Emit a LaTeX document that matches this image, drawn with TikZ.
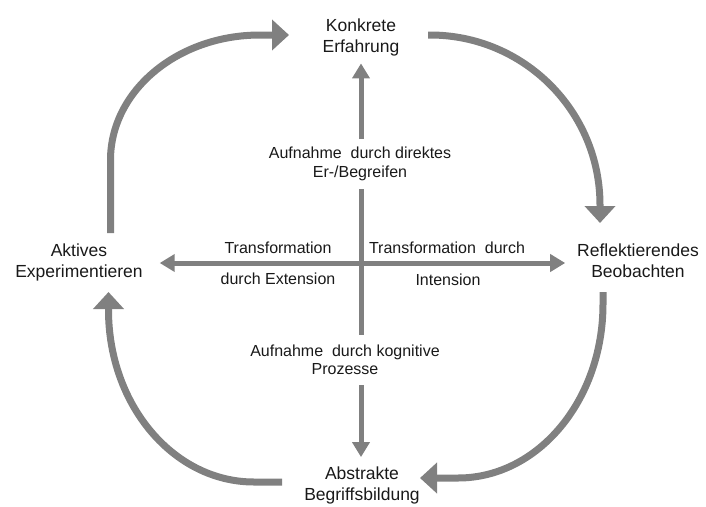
\documentclass[tikz,border=0pt]{standalone}
\usepackage{fontspec}
\setmainfont{Liberation Sans}
\usetikzlibrary{arrows.meta}
\definecolor{arrgray}{RGB}{128,128,128}
\definecolor{txtcol}{RGB}{25,25,25}
\begin{document}
\begin{tikzpicture}[x=1pt,y=-1pt,
  mainlbl/.style={font=\fontsize{17.5}{21.5}\selectfont, align=center, text=txtcol, inner sep=0pt},
  sublbl/.style={font=\fontsize{16}{18.5}\selectfont, align=center, text=txtcol, inner sep=0pt},
  gaplbl/.style={sublbl, minimum height=50pt, outer sep=0pt},
  bigarrow/.style={draw=arrgray, line width=7pt, -{Triangle[length=17pt,width=30pt]}},
  smallarrow/.style={draw=arrgray, line width=5pt, -{Triangle[length=15pt,width=17pt]}},
  plainline/.style={draw=arrgray, line width=5pt}]
\useasboundingbox (0,0) rectangle (706,506);

% main stage nodes
\node[mainlbl, outer sep=7pt] (konk) at (361,37.5) {Konkrete\\Erfahrung};
\node[mainlbl, outer sep=12pt] (refl) at (638,260.6) {Reflektierendes\\Beobachten};
\node[mainlbl, outer sep=17pt] (akt) at (79,262.5) {Aktives\\Experimentieren};
\node[mainlbl, outer sep=9.5pt] (abstr) at (362,485.5) {Abstrakte\\Begriffsbildung};

% centre labels
\coordinate (cross) at (361,263);
\node[gaplbl] (topmid) at (360,164) {Aufnahme~ durch direktes\\Er-/Begreifen};
\node[gaplbl] (botmid) at (345,360) {Aufnahme~ durch kognitive\\Prozesse};
\node[sublbl] (tl) at (278,248) {Transformation};
\node[sublbl] (bl) at (278,279) {durch Extension};
\node[sublbl] (tr) at (447,248) {Transformation~ durch};
\node[sublbl] (br) at (448,280) {Intension};

% centre cross
\draw[smallarrow] (cross |- topmid.north) -- (cross |- konk.south);
\draw[plainline] (cross |- topmid.south) -- (cross |- botmid.north);
\draw[smallarrow] (cross |- botmid.south) -- (cross |- abstr.north);
\draw[smallarrow] (cross) -- (cross -| akt.east);
\draw[smallarrow] (cross) -- (cross -| refl.west);

% cycle arcs (start near one stage, tip near the next)
\coordinate (a1) at (110.5,233);
\coordinate (a2) at (289,35);
\coordinate (b1) at (428,35);
\coordinate (b2) at (600,223);
\coordinate (c1) at (603,292);
\coordinate (c2) at (420,478);
\coordinate (d1) at (282,482);
\coordinate (d2) at (108.5,292);
\draw[bigarrow] (a1) -- (110.5,160)
  .. controls (110.5,91) and (177.4,35) .. (260,35) -- (a2);
\draw[bigarrow] (b1) -- (430,35)
  .. controls (523.9,35) and (600,111.1) .. (600,205) -- (b2);
\draw[bigarrow] (c1) -- (603,304)
  .. controls (603,400.1) and (538.1,478) .. (458,478) -- (c2);
\draw[bigarrow] (d1) -- (254,482)
  .. controls (173.6,482) and (108.5,405) .. (108.5,310) -- (d2);
\end{tikzpicture}
\end{document}
